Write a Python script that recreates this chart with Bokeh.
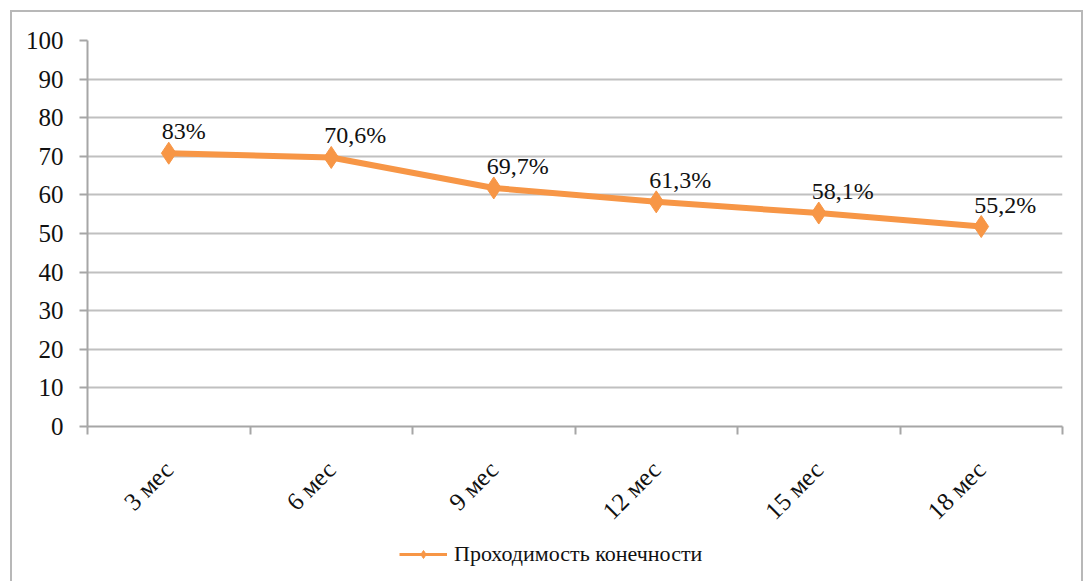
import numpy as np
from bokeh.plotting import figure
from bokeh.layouts import column
from bokeh.models import ColumnDataSource, FixedTicker, Legend, LegendItem, Range1d
from bokeh.core.properties import value
from bokeh.embed import file_html
from bokeh.resources import INLINE

categories = ["3 мес", "6 мес", "9 мес", "12 мес", "15 мес", "18 мес"]
values = [70.8, 69.7, 61.8, 58.2, 55.3, 51.8]
point_labels = ["83%", "70,6%", "69,7%", "61,3%", "58,1%", "55,2%"]
y_ticks = list(range(0, 101, 10))
series_name = "Проходимость конечности"

ORANGE = "#F79646"
FONT = "Liberation Serif"
BORDER = "2px solid #b8b8b8"

pos = np.arange(len(categories)) + 0.5
bounds = list(range(0, len(categories) + 1))
src = ColumnDataSource(dict(x=pos, y=values, lab=point_labels))

p = figure(width=1069, height=525, output_backend="svg", toolbar_location=None,
           x_range=Range1d(0, len(categories)), y_range=Range1d(0, 100),
           min_border_left=75, min_border_right=19, min_border_top=28,
           min_border_bottom=111)
p.outline_line_color = None
p.background_fill_color = "white"
p.border_fill_color = "white"

# x axis
p.xaxis.ticker = FixedTicker(ticks=list(pos), minor_ticks=bounds)
p.xaxis.major_label_overrides = {float(x): c for x, c in zip(pos, categories)}
p.xaxis.major_tick_line_color = None
p.xaxis.minor_tick_line_color = "#a6a6a6"
p.xaxis.minor_tick_line_width = 2
p.xaxis.minor_tick_out = 8
p.xaxis.minor_tick_in = 0
p.xaxis.axis_line_color = "#a6a6a6"
p.xaxis.axis_line_width = 2
p.xaxis.major_label_orientation = np.pi / 4
p.xaxis.major_label_text_font = FONT
p.xaxis.major_label_text_font_size = "25px"
p.xaxis.major_label_text_color = "#111111"
p.xaxis.major_label_standoff = 31

# y axis
p.yaxis.ticker = FixedTicker(ticks=y_ticks)
p.yaxis.minor_tick_line_color = None
p.yaxis.major_tick_out = 8
p.yaxis.major_tick_in = 0
p.yaxis.major_tick_line_color = "#a6a6a6"
p.yaxis.major_tick_line_width = 2
p.yaxis.axis_line_color = "#a6a6a6"
p.yaxis.axis_line_width = 2
p.yaxis.major_label_text_font = FONT
p.yaxis.major_label_text_font_size = "25px"
p.yaxis.major_label_text_color = "#111111"
p.yaxis.major_label_standoff = 16

p.xgrid.visible = False
p.ygrid.ticker = FixedTicker(ticks=y_ticks)
p.ygrid.grid_line_color = "#c0c0c0"
p.ygrid.grid_line_width = 2

# series
p.line("x", "y", source=src, line_color=ORANGE, line_width=6)
p.scatter("x", "y", source=src, marker="diamond", size=22, color=ORANGE)
p.text("x", "y", text="lab", source=src, x_offset=-7, y_offset=-22,
       text_align="left", text_baseline="alphabetic",
       text_font=value(FONT), text_font_size="24px", text_color="#111111")

# legend strip below the chart (same series, drawn outside this strip's view)
pl = figure(width=1069, height=44, output_backend="svg", toolbar_location=None,
            min_border=0, x_axis_location=None, y_axis_location=None,
            x_range=Range1d(0, 1), y_range=Range1d(0, 1))
pl.grid.visible = False
pl.outline_line_color = None
lg_line = pl.line("x", "y", source=src, line_color=ORANGE, line_width=3)
lg_mark = pl.scatter("x", "y", source=src, marker="diamond", size=15, color=ORANGE)
legend = Legend(items=[LegendItem(label=series_name, renderers=[lg_line, lg_mark])],
                orientation="horizontal", location=(312, 14), margin=0, padding=6,
                border_line_color=None, background_fill_alpha=0,
                label_text_font=FONT, label_text_font_size="22px",
                label_text_color="#111111", glyph_width=48, glyph_height=20,
                label_standoff=7)
pl.add_layout(legend, "center")

layout = column(p, pl, margin=(10, 0, 0, 10),
                styles={"border-left": BORDER, "border-top": BORDER, "border-right": BORDER})

open("out.html", "w").write(file_html(layout, INLINE))
